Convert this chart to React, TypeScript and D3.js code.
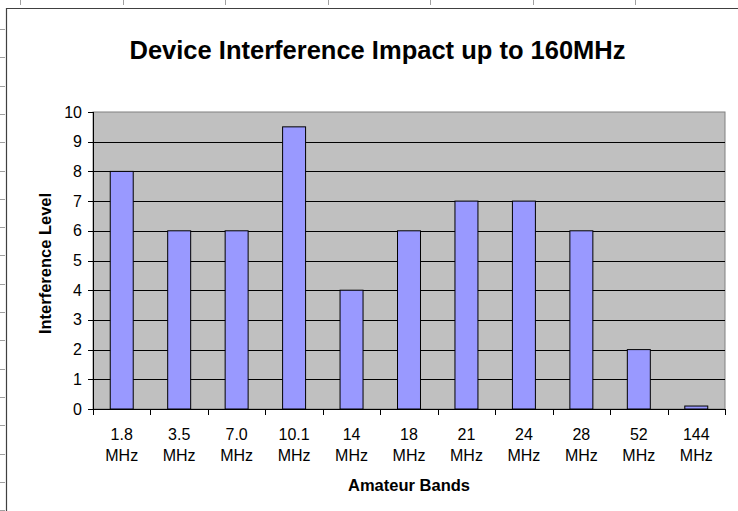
import React from 'react';
import * as d3 from 'd3';

const bands = ["1.8", "3.5", "7.0", "10.1", "14", "18", "21", "24", "28", "52", "144"];
const levels = [8, 6, 6, 9.5, 4, 6, 7, 7, 6, 2, 0.1];
const yTicks = [0, 1, 2, 3, 4, 5, 6, 7, 8, 9, 10];

const W = 738;
const H = 511;
const plot = { left: 93, top: 112, right: 725, bottom: 409 };

const App = () => {
  const x = d3.scaleBand<string>()
    .domain(bands)
    .range([plot.left, plot.right])
    .paddingInner(0)
    .paddingOuter(0);
  const y = d3.scaleLinear().domain([0, 10]).range([plot.bottom, plot.top]);
  const barW = x.bandwidth() * 0.4;

  // spreadsheet cell marks around the chart
  const rowMarks = d3.range(29, H, 28.3);
  const colMarks = d3.range(20, W, 102.5);

  const font = "Arial, 'Liberation Sans', sans-serif";

  return (
    <svg width={W} height={H} style={{ position: 'absolute', left: 0, top: 0, background: '#fff' }} fontFamily={font}>
      {rowMarks.map((r, i) => (
        <line key={'r' + i} x1={0} x2={5} y1={Math.round(r) + 0.5} y2={Math.round(r) + 0.5} stroke="#a0a0a0" />
      ))}
      {colMarks.map((c, i) => (
        <line key={'c' + i} x1={Math.round(c) + 0.5} x2={Math.round(c) + 0.5} y1={0} y2={5} stroke="#a0a0a0" />
      ))}
      {/* chart border */}
      <path d={`M6.5,${H} V8.5 H${W}`} fill="none" stroke="#404040" strokeWidth={1.2} />

      <text x={377.5} y={59} textAnchor="middle" fontSize={25.5} fontWeight="bold" fill="#000">
        Device Interference Impact up to 160MHz
      </text>

      {/* plot area */}
      <rect x={plot.left} y={plot.top} width={plot.right - plot.left} height={plot.bottom - plot.top} fill="#c0c0c0" stroke="#808080" />

      {yTicks.filter(t => t > 0 && t < 10).map(t => (
        <line key={'g' + t} x1={plot.left} x2={plot.right} y1={Math.round(y(t)) + 0.5} y2={Math.round(y(t)) + 0.5} stroke="#000" />
      ))}

      {bands.map((b, i) => (
        <rect
          key={b}
          x={(x(b) as number) + (x.bandwidth() - barW) / 2}
          y={y(levels[i])}
          width={barW}
          height={plot.bottom - y(levels[i])}
          fill="#9999ff"
          stroke="#000"
          strokeWidth={1}
        />
      ))}

      {/* y axis */}
      <line x1={plot.left + 0.5} x2={plot.left + 0.5} y1={plot.top} y2={plot.bottom} stroke="#000" />
      {yTicks.map(t => (
        <g key={'y' + t}>
          <line x1={plot.left - 5} x2={plot.left} y1={Math.round(y(t)) + 0.5} y2={Math.round(y(t)) + 0.5} stroke="#000" />
          <text x={plot.left - 11} y={y(t) + 5.5} textAnchor="end" fontSize={16} fill="#000">{t}</text>
        </g>
      ))}

      {/* x axis */}
      <line x1={plot.left} x2={plot.right} y1={plot.bottom + 0.5} y2={plot.bottom + 0.5} stroke="#000" />
      {[...bands.map(b => x(b) as number), plot.right].map((v, i) => (
        <line key={'xt' + i} x1={Math.round(v) + 0.5} x2={Math.round(v) + 0.5} y1={plot.bottom} y2={plot.bottom + 6} stroke="#000" />
      ))}
      {bands.map(b => (
        <text key={'xl' + b} x={(x(b) as number) + x.bandwidth() / 2} textAnchor="middle" fontSize={16} fill="#000">
          <tspan x={(x(b) as number) + x.bandwidth() / 2} y={440}>{b}</tspan>
          <tspan x={(x(b) as number) + x.bandwidth() / 2} y={461}>MHz</tspan>
        </text>
      ))}

      <text x={(plot.left + plot.right) / 2} y={491} textAnchor="middle" fontSize={16.5} fontWeight="bold" fill="#000">
        Amateur Bands
      </text>
      <text
        transform={`translate(51, ${(plot.top + plot.bottom) / 2 + 3}) rotate(-90)`}
        textAnchor="middle"
        fontSize={16.5}
        fontWeight="bold"
        fill="#000"
      >
        Interference Level
      </text>
    </svg>
  );
};

export default App;
